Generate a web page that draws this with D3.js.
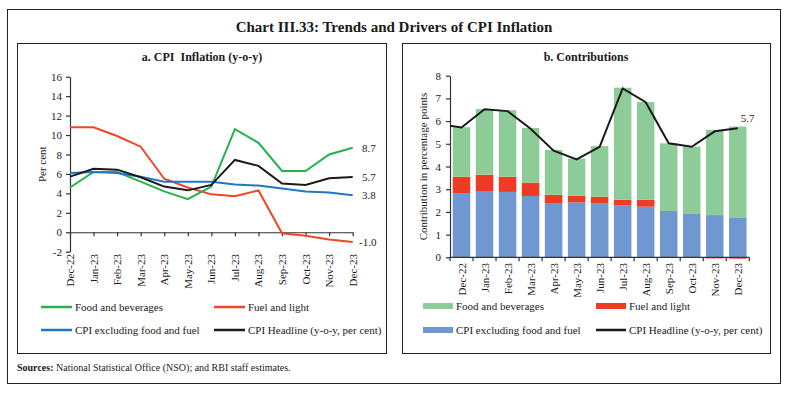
<!DOCTYPE html>
<html>
<head>
<meta charset="utf-8">
<script src="https://cdn.jsdelivr.net/npm/d3@7"></script>
<style>
  body { margin: 0; background: #fff; }
  text { font-family: "Liberation Serif", "DejaVu Serif", serif; fill: #1a1a1a; }
</style>
</head>
<body>
<div id="chart"></div>
<script>
'use strict';

// data
const months = ['Dec-22', 'Jan-23', 'Feb-23', 'Mar-23', 'Apr-23', 'May-23', 'Jun-23',
                'Jul-23', 'Aug-23', 'Sep-23', 'Oct-23', 'Nov-23', 'Dec-23'];

// panel a: y-o-y inflation, per cent
const foodInfl = [4.6, 6.2, 6.2, 5.2, 4.2, 3.4, 4.7, 10.6, 9.2, 6.3, 6.3, 8.0, 8.7];
const fuelInfl = [10.8, 10.8, 9.9, 8.8, 5.5, 4.6, 3.9, 3.7, 4.3, -0.1, -0.35, -0.75, -1.0];
const coreInfl = [6.1, 6.2, 6.1, 5.7, 5.2, 5.2, 5.2, 4.9, 4.8, 4.5, 4.2, 4.1, 3.8];
const headline = [5.72, 6.52, 6.44, 5.66, 4.70, 4.31, 4.87, 7.44, 6.83, 5.02, 4.87, 5.55, 5.69];
const headlinePrev = 5.88; // Nov-22, only the stub of the line shows in panel b

// panel b: contributions, percentage points
const foodContrib = [2.18, 2.89, 2.93, 2.41, 1.97, 1.63, 2.23, 4.93, 4.30, 2.98, 2.97, 3.75, 4.00];
const fuelContrib = [0.72, 0.72, 0.67, 0.59, 0.37, 0.30, 0.28, 0.26, 0.31, -0.01, -0.03, -0.05, -0.06];
const coreContrib = [2.83, 2.92, 2.88, 2.70, 2.39, 2.42, 2.39, 2.28, 2.23, 2.04, 1.91, 1.86, 1.76];

const ticksA = [-2, 0, 2, 4, 6, 8, 10, 12, 14, 16];
const ticksB = [0, 1, 2, 3, 4, 5, 6, 7, 8];

const W = 787, H = 393;
const axisColor = '#333';

// plain hyphen for negatives, as in the original
const fmt1 = d => d3.format('.1f')(d).replace('\u2212', '-');
const fmt0 = d => String(d);

const svg = d3.select('#chart')
    .append('svg')
    .attr('width', W)
    .attr('height', H);

// frames
svg.append('rect').attr('x', 7.5).attr('y', 9.5).attr('width', 773).attr('height', 374)
    .attr('fill', 'none').attr('stroke', '#222').attr('stroke-width', 1);
svg.append('rect').attr('x', 17.5).attr('y', 43.5).attr('width', 369).attr('height', 310)
    .attr('fill', 'none').attr('stroke', '#222').attr('stroke-width', 1);
svg.append('rect').attr('x', 402.5).attr('y', 43.5).attr('width', 368).attr('height', 310)
    .attr('fill', 'none').attr('stroke', '#222').attr('stroke-width', 1);

svg.append('text')
    .attr('x', 394).attr('y', 32)
    .attr('text-anchor', 'middle')
    .attr('font-size', 15).attr('font-weight', 'bold')
    .text('Chart III.33: Trends and Drivers of CPI Inflation');

const sources = svg.append('text').attr('x', 17).attr('y', 371).attr('font-size', 10);
sources.append('tspan').attr('font-weight', 'bold').text('Sources:');
sources.append('tspan').text(' National Statistical Office (NSO); and RBI staff estimates.');

function styleAxis(g) {
    g.selectAll('path, line').attr('stroke', axisColor).attr('stroke-width', 1.2);
    g.selectAll('text').attr('font-size', 11).attr('fill', '#1a1a1a')
        .attr('font-family', '"Liberation Serif", serif');
}

// ---------- panel a ----------
const xA = d3.scalePoint().domain(months).range([70, 352.7]);
const yA = d3.scaleLinear().domain([-2, 16]).range([251.7, 76.7]);

svg.append('text')
    .attr('x', 202).attr('y', 61)
    .attr('text-anchor', 'middle')
    .attr('font-size', 12).attr('font-weight', 'bold')
    .style('white-space', 'pre')
    .text('a. CPI  Inflation (y-o-y)');

svg.append('g')
    .attr('transform', 'translate(70,0)')
    .call(d3.axisLeft(yA).tickValues(ticksA).tickFormat(fmt0)
        .tickSize(4).tickPadding(4).tickSizeOuter(0))
    .call(styleAxis);

svg.append('g')
    .attr('transform', `translate(0,${yA(0)})`)
    .call(d3.axisBottom(xA).tickSize(4).tickSizeOuter(0).tickFormat(''))
    .call(styleAxis);

svg.append('g').selectAll('text')
    .data(months)
    .enter()
    .append('text')
    .attr('transform', d => `translate(${xA(d) + 4},254) rotate(-90)`)
    .attr('text-anchor', 'end')
    .attr('font-size', 11)
    .text(d => d);

svg.append('text')
    .attr('transform', `translate(46,${(yA(16) + yA(-2)) / 2}) rotate(-90)`)
    .attr('text-anchor', 'middle')
    .attr('font-size', 11)
    .text('Per cent');

const seriesA = [
    { name: 'Food and beverages', values: foodInfl, color: '#23b24b' },
    { name: 'Fuel and light', values: fuelInfl, color: '#ef4626' },
    { name: 'CPI excluding food and fuel', values: coreInfl, color: '#1f78c1' },
    { name: 'CPI Headline (y-o-y, per cent)', values: headline, color: '#1a1a1a' }
];
const drawOrder = [1, 0, 2, 3];

const lineA = d3.line()
    .x((d, i) => xA(months[i]))
    .y(d => yA(d));

svg.append('g').selectAll('path')
    .data(drawOrder.map(i => seriesA[i]))
    .enter()
    .append('path')
    .attr('d', d => lineA(d.values))
    .attr('fill', 'none')
    .attr('stroke', d => d.color)
    .attr('stroke-width', 2);

svg.append('g').selectAll('text')
    .data(seriesA)
    .enter()
    .append('text')
    .attr('x', d => d.values[12] < 0 ? 359 : 362)
    .attr('y', d => yA(d.values[12]) + 4)
    .attr('font-size', 11)
    .text(d => fmt1(d.values[12]));

// legend a
const legA = svg.append('g').selectAll('g')
    .data(seriesA)
    .enter()
    .append('g')
    .attr('transform', (d, i) => `translate(${i % 2 ? 214 : 41},${i < 2 ? 307 : 330})`);
legA.append('line')
    .attr('x1', 0).attr('x2', 31).attr('y1', 0).attr('y2', 0)
    .attr('stroke', d => d.color).attr('stroke-width', 2.5);
legA.append('text')
    .attr('x', 34).attr('y', 4)
    .attr('font-size', 11)
    .text(d => d.name);

// ---------- panel b ----------
const xB = d3.scaleBand().domain(months).range([450, 749.3]);
const yB = d3.scaleLinear().domain([0, 8]).range([257.3, 75.7]);
const step = xB.step();
const barW = step * 0.76;

svg.append('text')
    .attr('x', 586).attr('y', 61)
    .attr('text-anchor', 'middle')
    .attr('font-size', 12).attr('font-weight', 'bold')
    .text('b. Contributions');

const table = months.map((m, i) => ({
    month: m,
    core: coreContrib[i],
    fuel: fuelContrib[i],
    food: foodContrib[i]
}));

const colorsB = { core: '#7097cf', fuel: '#ee3b24', food: '#8dcc98' };

const stacked = d3.stack()
    .keys(['core', 'fuel', 'food'])
    .offset(d3.stackOffsetDiverging)(table);

svg.append('g').selectAll('g')
    .data(stacked)
    .enter()
    .append('g')
    .attr('fill', d => colorsB[d.key])
    .selectAll('rect')
    .data(d => d)
    .enter()
    .append('rect')
    .attr('x', d => xB(d.data.month) + (step - barW) / 2)
    .attr('width', barW)
    .attr('y', d => yB(Math.max(d[0], d[1])))
    .attr('height', d => Math.abs(yB(d[0]) - yB(d[1])));

svg.append('g')
    .attr('transform', 'translate(450,0)')
    .call(d3.axisLeft(yB).tickValues(ticksB).tickFormat(fmt0)
        .tickSize(4).tickPadding(5).tickSizeOuter(0))
    .call(styleAxis);

// category axis with ticks on band edges
const xAxisB = svg.append('g');
xAxisB.append('line')
    .attr('x1', 450).attr('x2', 749.3)
    .attr('y1', yB(0)).attr('y2', yB(0));
xAxisB.selectAll('.tk')
    .data(d3.range(months.length + 1))
    .enter()
    .append('line')
    .attr('x1', i => 450 + i * step).attr('x2', i => 450 + i * step)
    .attr('y1', yB(0)).attr('y2', yB(0) + 4);
xAxisB.selectAll('line').attr('stroke', axisColor).attr('stroke-width', 1.2);

svg.append('g').selectAll('text')
    .data(months)
    .enter()
    .append('text')
    .attr('transform', d => `translate(${xB(d) + step / 2 + 4},263) rotate(-90)`)
    .attr('text-anchor', 'end')
    .attr('font-size', 11)
    .text(d => d);

svg.append('text')
    .attr('transform', `translate(427,${(yB(0) + yB(8)) / 2}) rotate(-90)`)
    .attr('text-anchor', 'middle')
    .attr('font-size', 11)
    .text('Contribution in percentage points');

// headline line, clipped to the plot area so only a stub of Nov-22 shows
svg.append('clipPath').attr('id', 'clipB')
    .append('rect').attr('x', 450).attr('y', 60).attr('width', 310).attr('height', 210);

const linePts = [{ x: xB(months[0]) - step / 2, v: headlinePrev }]
    .concat(headline.map((v, i) => ({ x: xB(months[i]) + step / 2, v: v })));

svg.append('path')
    .attr('clip-path', 'url(#clipB)')
    .attr('d', d3.line().x(d => d.x).y(d => yB(d.v))(linePts))
    .attr('fill', 'none')
    .attr('stroke', '#1a1a1a')
    .attr('stroke-width', 2);

svg.append('text')
    .attr('x', xB(months[12]) + step / 2 + 3)
    .attr('y', yB(headline[12]) - 6)
    .attr('font-size', 11)
    .text(fmt1(headline[12]));

// legend b
const legendB = [
    { name: 'Food and beverages', color: colorsB.food, type: 'bar' },
    { name: 'Fuel and light', color: colorsB.fuel, type: 'bar' },
    { name: 'CPI excluding food and fuel', color: colorsB.core, type: 'bar' },
    { name: 'CPI Headline (y-o-y, per cent)', color: '#1a1a1a', type: 'line' }
];
const legB = svg.append('g').selectAll('g')
    .data(legendB)
    .enter()
    .append('g')
    .attr('transform', (d, i) => `translate(${i % 2 ? 596 : 423},${i < 2 ? 306 : 330})`);
legB.append('rect')
    .attr('x', 0).attr('width', 30)
    .attr('y', d => d.type === 'bar' ? -3 : -1.25)
    .attr('height', d => d.type === 'bar' ? 6 : 2.5)
    .attr('fill', d => d.color);
legB.append('text')
    .attr('x', 33).attr('y', 4)
    .attr('font-size', 11)
    .text(d => d.name);
</script>
</body>
</html>
